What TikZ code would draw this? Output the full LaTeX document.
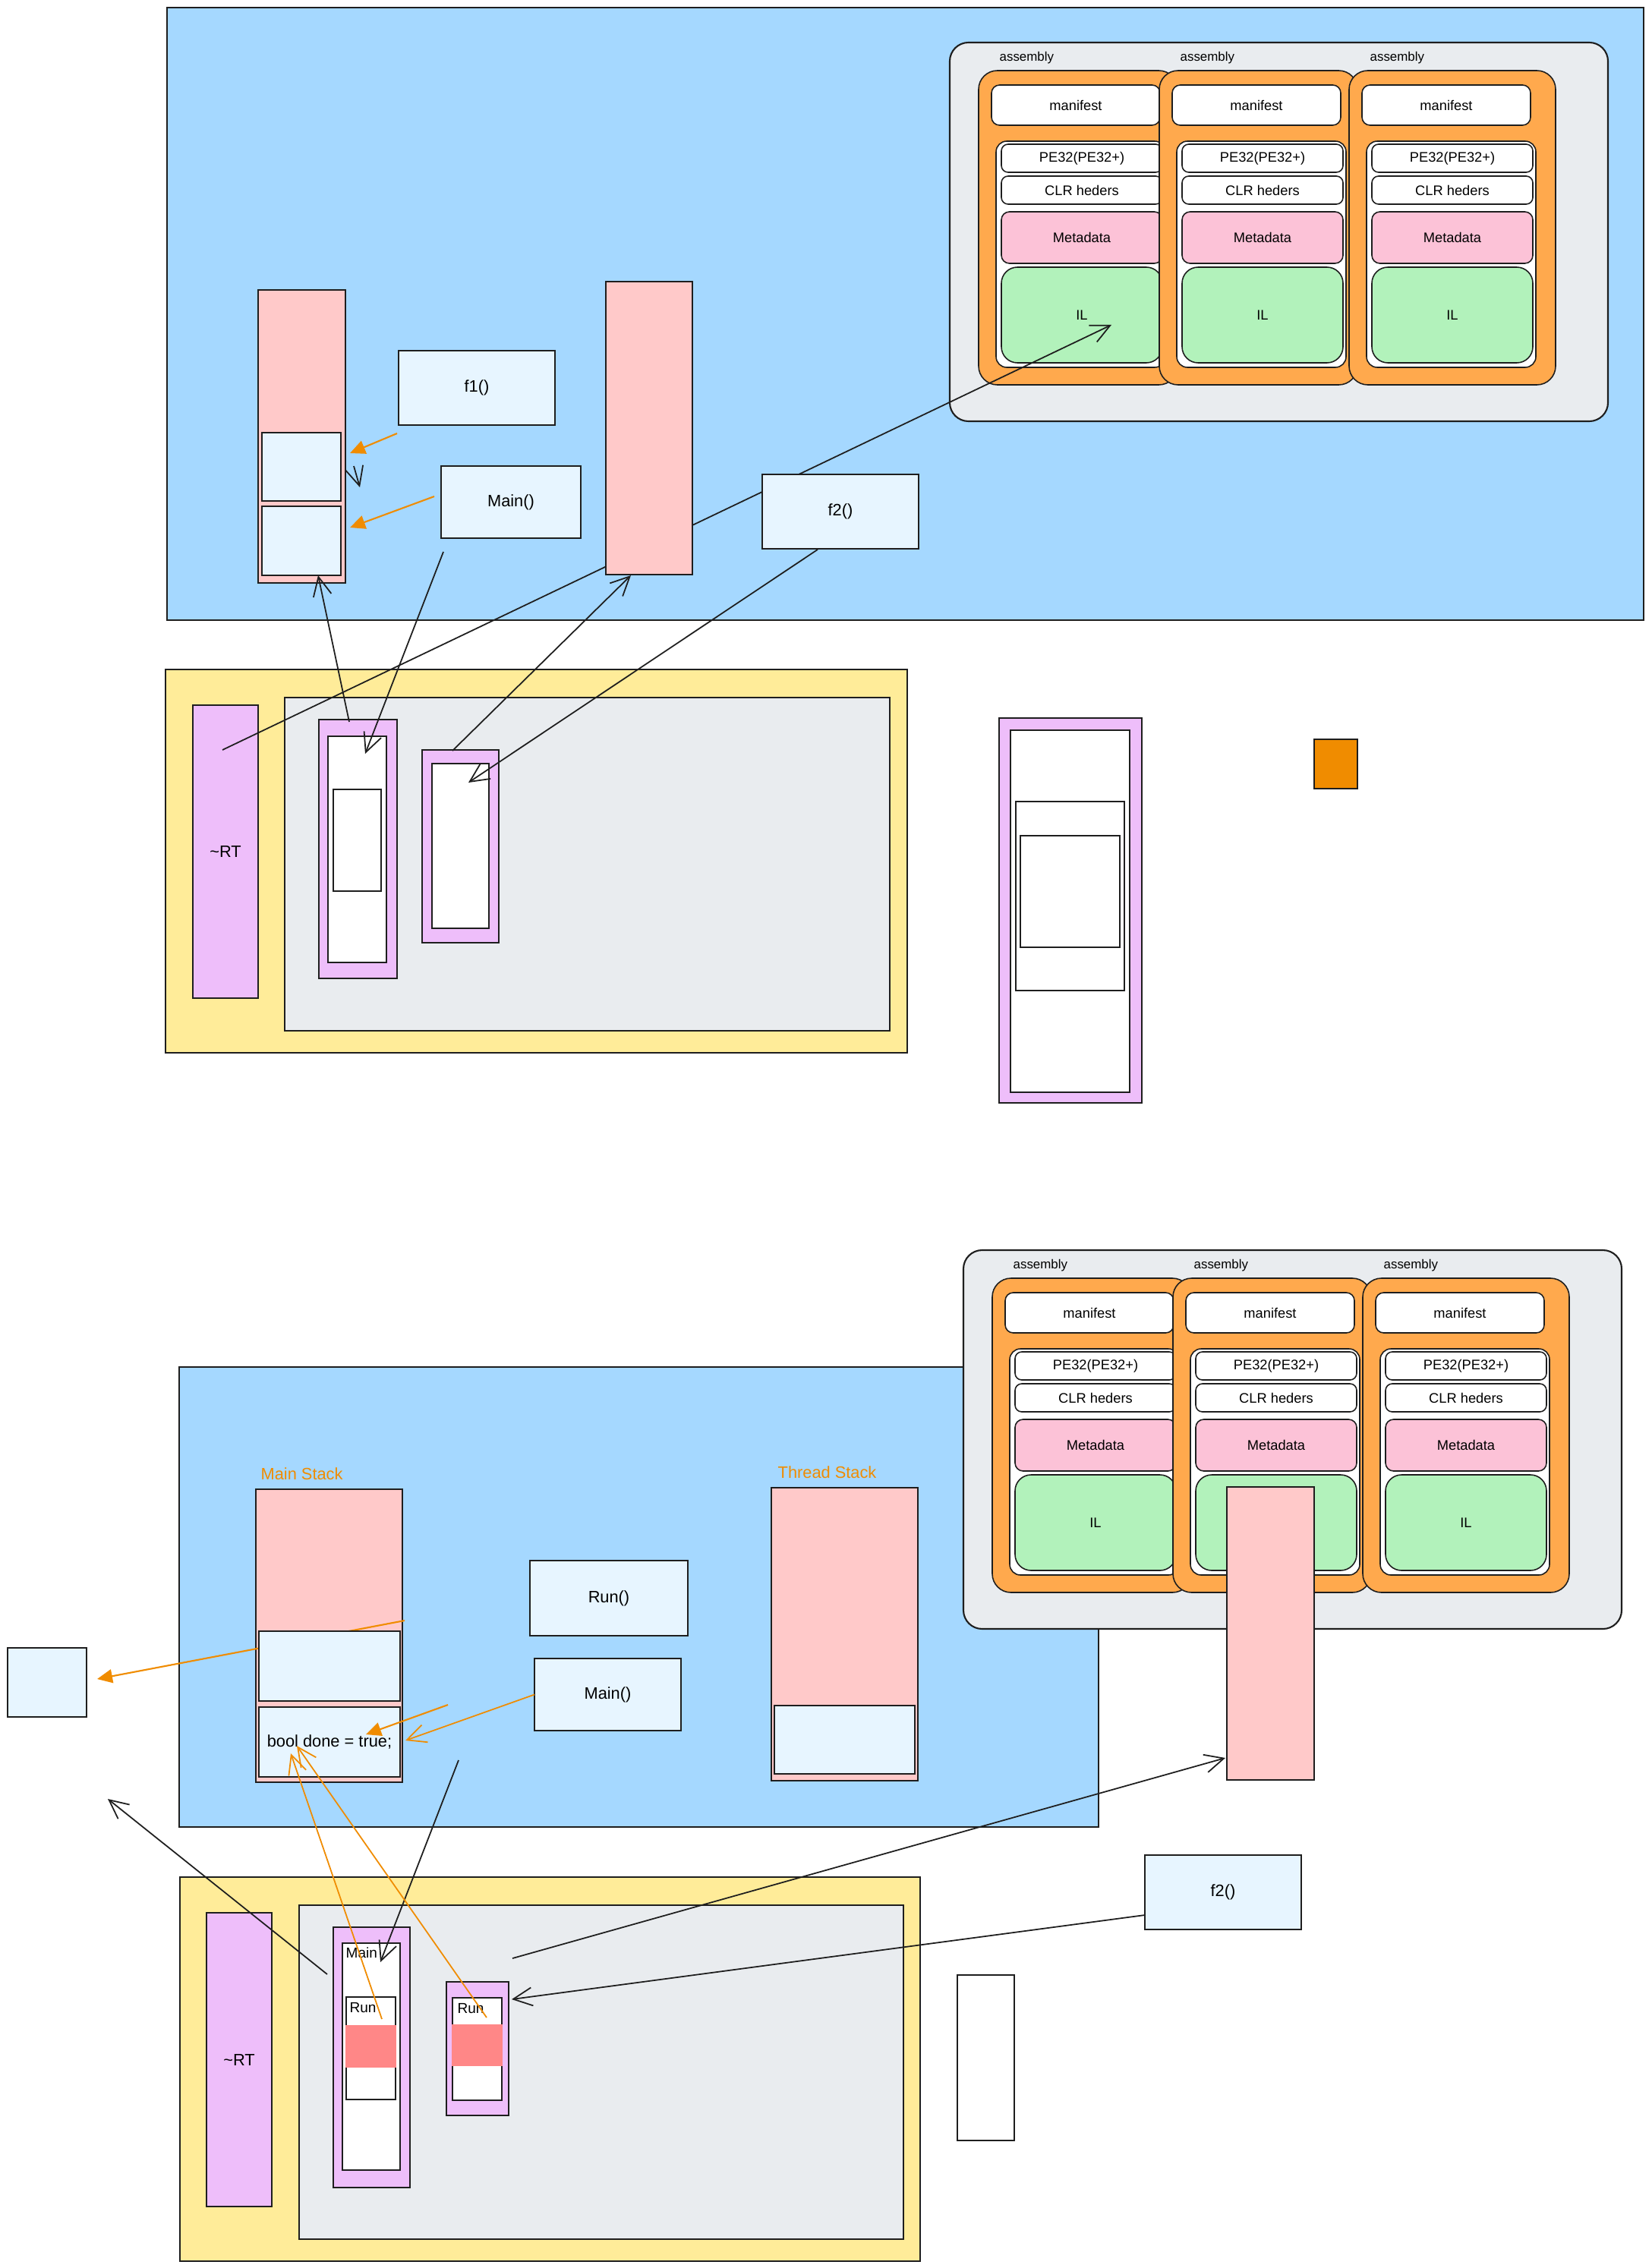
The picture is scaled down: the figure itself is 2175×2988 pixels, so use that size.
\documentclass[tikz,border=0pt]{standalone}
\usepackage{fontspec}
\setmainfont{Liberation Sans}
\usepackage{tikz}
\usetikzlibrary{arrows.meta,positioning}
\definecolor{heapblue}{HTML}{A5D8FF}
\definecolor{rtyellow}{HTML}{FFEC99}
\definecolor{paleblue}{HTML}{E7F5FF}
\definecolor{stackpink}{HTML}{FFC9C9}
\definecolor{lilac}{HTML}{EEBEFA}
\definecolor{asmorange}{HTML}{FFA94D}
\definecolor{metapink}{HTML}{FCC2D7}
\definecolor{ilgreen}{HTML}{B2F2BB}
\definecolor{greybg}{HTML}{E9ECEF}
\definecolor{accent}{HTML}{F08C00}
\definecolor{salmon}{HTML}{FF8787}
\definecolor{ink}{HTML}{1E1E1E}

% three assemblies in a grey group: prefix, dx, dy
\newcommand{\asmgroup}[3]{%
  \begin{scope}[shift={(#2,#3)}]
    \node[asmgrp, sz={867}{499}] (#1grp) at (1251,56) {};
    \foreach \n/\x/\w in {1/1289/262, 2/1527/261, 3/1777/272}{
      \node[asmcol, sz={\w}{414}] (#1asm\n) at (\x,93) {};
      \node[asmlbl] (#1lab\n) at (\x+27,76) {assembly};
      \node[asmpart, rounded corners=3pt, sz={222}{53}] (#1man\n) at (\x+17,112) {manifest};
      \node[asmpart, rounded corners=4pt, sz={223}{298}] (#1img\n) at (\x+23,186) {};
      \node[asmpart, sz={212}{37}] (#1pe\n) at (\x+30,190) {PE32(PE32+)};
      \node[asmpart, sz={212}{37}] (#1clr\n) at (\x+30,232) {CLR heders};
      \node[asmpart, fill=metapink, rounded corners=3pt, sz={212}{68}] (#1meta\n) at (\x+30,279) {Metadata};
      \node[asmpart, fill=ilgreen, rounded corners=6pt, sz={212}{126}] (#1il\n) at (\x+30,352) {IL};
    }
  \end{scope}}

\begin{document}
\begin{tikzpicture}[x=0.01cm, y=-0.01cm,
    sz/.style 2 args={minimum width=#1*0.01cm, minimum height=#2*0.01cm},
    blk/.style={rectangle, draw=ink, line width=0.45pt, inner sep=0pt, outer sep=0pt, anchor=north west},
    heapbg/.style={blk, fill=heapblue},
    rtbg/.style={blk, fill=rtyellow},
    greybox/.style={blk, fill=greybg},
    asmgrp/.style={blk, fill=greybg, rounded corners=7pt, line width=0.6pt},
    asmcol/.style={blk, fill=asmorange, rounded corners=7pt},
    asmpart/.style={blk, fill=white, rounded corners=2.5pt, font=\fontsize{5.2}{6}\selectfont},
    asmlbl/.style={anchor=west, inner sep=0pt, font=\fontsize{4.8}{6}\selectfont},
    stackbar/.style={blk, fill=stackpink},
    fnbox/.style={blk, fill=paleblue, font=\fontsize{6.2}{7}\selectfont},
    thread/.style={blk, fill=lilac, font=\fontsize{6.2}{7}\selectfont},
    slot/.style={blk, fill=white},
    hot/.style={rectangle, fill=salmon, inner sep=0pt, outer sep=0pt, anchor=north west},
    note/.style={text=accent, inner sep=0pt, anchor=west, font=\fontsize{6.2}{7}\selectfont},
    framelbl/.style={inner sep=0pt, font=\fontsize{5.4}{6}\selectfont},
    link/.style={draw=ink, line width=0.5pt, -{Straight Barb[length=2.5mm, width=2.4mm]}},
    hint/.style={draw=accent, line width=0.6pt, -{Triangle[length=2mm, width=1.8mm]}},
    hintopen/.style={draw=accent, line width=0.5pt, -{Straight Barb[length=2.5mm, width=2.4mm]}}]
  \useasboundingbox (0,0) rectangle (2175,2988);
  \fill[white] (0,0) rectangle (2175,2988);

  % ---- first run: heap
  \node[heapbg, sz={1945}{807}] (heapA) at (220,10) {};
  \asmgroup{T}{0}{0}
  \node[stackbar, sz={115}{386}] (stackA) at (340,382) {};
  \node[fnbox, sz={104}{90}] (frA1) at (345,570) {};
  \node[fnbox, sz={104}{91}] (frA2) at (345,667) {};
  \node[fnbox, sz={206}{98}] (f1A) at (525,462) {f1()};
  \node[fnbox, sz={184}{95}] (mainA) at (581,614) {Main()};
  \coordinate (f1tail) at (523,571);
  \coordinate (f1tip) at (461,597);
  \coordinate (mntail) at (572,654);
  \coordinate (mntip) at (461,695);
  \draw[hint] (f1tail) -- (f1tip);
  \draw[hint] (mntail) -- (mntip);
  \coordinate (popA) at (466,614);
  \coordinate (popB) at (474,642);
  \draw[link] (popA) -- (popB);

  % ---- first run: runtime
  \node[rtbg, sz={977}{505}] (rtA) at (218,882) {};
  \node[greybox, sz={797}{439}] (appA) at (375,919) {};
  \node[thread, sz={86}{386}] (crtA) at (254,929) {\textasciitilde RT};
  \node[thread, sz={103}{341}] (thA1) at (420,948) {};
  \node[slot, sz={77}{298}] (slA1) at (432,970) {};
  \node[slot, sz={63}{134}] (slA1in) at (439,1040) {};
  \node[thread, sz={101}{254}] (thA2) at (556,988) {};
  \node[slot, sz={75}{217}] (slA2) at (569,1006) {};

  % detached thread
  \node[thread, sz={188}{507}] (thC) at (1316,946) {};
  \node[slot, sz={157}{477}] (slC) at (1331,962) {};
  \node[slot, sz={143}{249}] (slCmid) at (1338,1056) {};
  \node[slot, sz={131}{147}] (slCin) at (1344,1101) {};
  \node[blk, fill=accent, sz={57}{65}] (sq) at (1731,974) {};

  % links
  \coordinate (rtstart) at (293,988);
  \coordinate (iltip) at (1464,428);
  \draw[link] (rtstart) -- (iltip);
  \node[stackbar, sz={114}{386}] (stackB) at (798,371) {};
  \node[fnbox, sz={206}{98}] (f2A) at (1004,625) {f2()};
  \coordinate (mainfoot) at (584,727);
  \coordinate (slA1tip) at (481,993);
  \draw[link] (mainfoot) -- (slA1tip);
  \coordinate (thA1top) at (460,951);
  \coordinate (frA2tip) at (419,758);
  \draw[link] (thA1top) -- (frA2tip);
  \coordinate (thA2top) at (596,989);
  \coordinate (stBtip) at (831,758);
  \draw[link] (thA2top) -- (stBtip);
  \coordinate (f2foot) at (1077,724);
  \coordinate (slA2tip) at (617,1031);
  \draw[link] (f2foot) -- (slA2tip);

  % ---- second run: heap
  \node[heapbg, sz={1211}{606}] (heapB) at (236,1801) {};
  \asmgroup{B}{18}{1591}
  \node[note] (mslbl) at (343,1942) {Main Stack};
  \node[note] (tslbl) at (1024,1940) {Thread Stack};
  \node[stackbar, sz={193}{386}] (mstack) at (337,1962) {};
  \coordinate (leak) at (533,2135);
  \coordinate (leaktip) at (128,2212);
  \draw[hint] (leak) -- (leaktip);
  \node[fnbox, sz={186}{92}] (frB1) at (341,2149) {};
  \node[fnbox, sz={186}{92}] (frB2) at (341,2249) {bool done = true;};
  \node[fnbox, sz={208}{99}] (runB) at (698,2056) {Run()};
  \node[fnbox, sz={193}{95}] (mainB) at (704,2185) {Main()};
  \node[stackbar, sz={193}{386}] (tstack) at (1016,1960) {};
  \node[fnbox, sz={185}{90}] (tfr) at (1020,2247) {};
  \node[fnbox, sz={104}{91}] (boxed) at (10,2171) {};
  \coordinate (push) at (590,2246);
  \coordinate (pushtip) at (482,2285);
  \draw[hint] (push) -- (pushtip);
  \coordinate (donetip) at (534,2293);
  \draw[hintopen] (mainB.west) -- (donetip);
  \node[stackbar, sz={115}{386}] (stackC) at (1616,1959) {};

  % ---- second run: runtime
  \node[rtbg, sz={975}{506}] (rtB) at (237,2473) {};
  \node[greybox, sz={796}{440}] (appB) at (394,2510) {};
  \node[thread, sz={86}{387}] (crtB) at (272,2520) {\textasciitilde RT};
  \node[thread, sz={101}{343}] (thB1) at (439,2539) {};
  \node[slot, sz={76}{299}] (slB1) at (451,2560) {};
  \node[framelbl, below right=0.5mm and 0.4mm of slB1.north west] (mainlbl) {Main};
  \node[slot, sz={65}{135}] (runB1) at (456,2631) {};
  \node[hot, sz={67}{56}] (hotB1) at (455,2668) {};
  \node[framelbl, below right=0.7mm and 0.4mm of runB1.north west] (runlbl1) {Run};
  \node[thread, sz={82}{176}] (thB2) at (588,2611) {};
  \node[slot, sz={65}{135}] (runB2) at (596,2632) {};
  \node[hot, sz={67}{55}] (hotB2) at (595,2667) {};
  \node[framelbl, below right=0.7mm and 0.6mm of runB2.north west] (runlbl2) {Run};
  \node[slot, sz={75}{218}] (spare) at (1261,2602) {};
  \node[fnbox, sz={206}{98}] (f2B) at (1508,2444) {f2()};

  % links
  \coordinate (mainfootB) at (604,2319);
  \coordinate (slB1tip) at (501,2585);
  \draw[link] (mainfootB) -- (slB1tip);
  \coordinate (thB1side) at (431,2601);
  \coordinate (outtip) at (142,2370);
  \draw[link] (thB1side) -- (outtip);
  \coordinate (gostart) at (675,2580);
  \coordinate (stCtip) at (1614,2316);
  \draw[link] (gostart) -- (stCtip);
  \coordinate (f2side) at (1508,2523);
  \coordinate (thB2tip) at (674,2634);
  \draw[link] (f2side) -- (thB2tip);
  \coordinate (run1) at (503,2660);
  \coordinate (bool1) at (383,2310);
  \coordinate (run2) at (641,2658);
  \coordinate (bool2) at (391,2300);
  \draw[hintopen] (run1) -- (bool1);
  \draw[hintopen] (run2) -- (bool2);
\end{tikzpicture}
\end{document}
